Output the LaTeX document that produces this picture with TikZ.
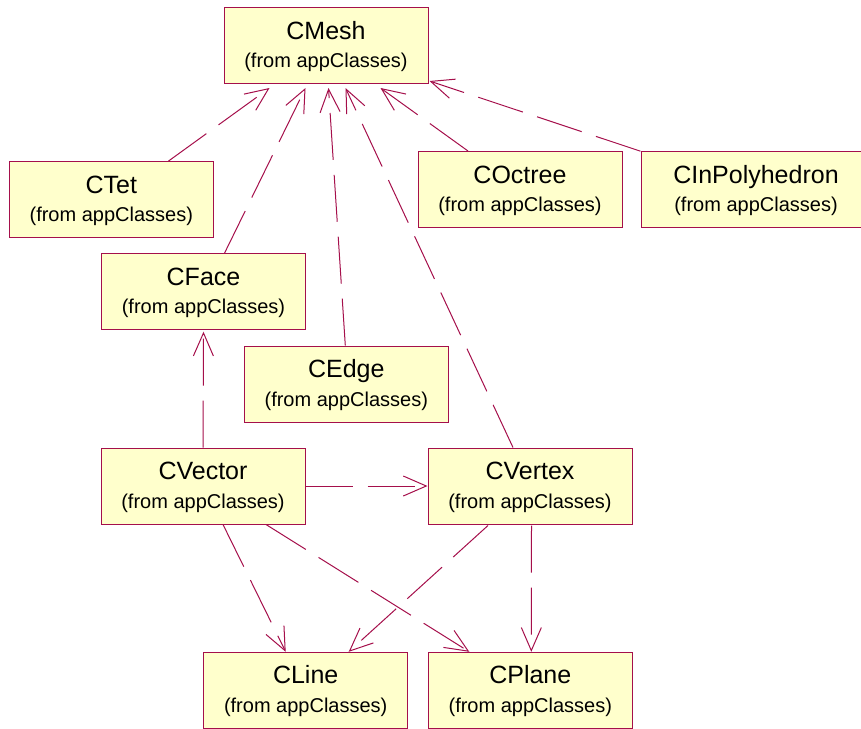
\documentclass[tikz,border=0pt]{standalone}
\usepackage{fontspec}
\setmainfont{Liberation Sans}
\usetikzlibrary{arrows.meta}
\definecolor{edgec}{RGB}{165,15,75}
\definecolor{boxfill}{RGB}{255,255,204}
\newcommand\umlcls[4][204pt]{%
  \node[cls, minimum width=#1] (#2) at (#3) {};
  \node[nm] (#2-n) at ([yshift=6.5pt]#2.center) {#4};
  \node[subt] (#2-s) at ([yshift=-22pt]#2.center) {(from appClasses)};
}
\begin{document}
\begin{tikzpicture}[x=1pt,y=-1pt,
  cls/.style={draw=edgec, fill=boxfill, line width=1pt, minimum height=76pt, inner sep=0pt},
  nm/.style={anchor=base, font=\fontsize{25}{30}\selectfont, inner sep=0pt},
  subt/.style={anchor=base, font=\fontsize{20}{24}\selectfont, inner sep=0pt},
  dep/.style={draw=edgec, line width=1pt, dash pattern=on 47pt off 15pt,
    -{Straight Barb[length=23pt,width=20pt,line width=1pt]}}
]
\useasboundingbox (0,0) rectangle (861,728);
\clip (0,0) rectangle (861,728);
\umlcls{mesh}{326,45.5}{CMesh}
\umlcls{tet}{111.3,199.7}{CTet}
\umlcls{octree}{520,189.5}{COctree}
\umlcls[230pt]{inpoly}{756,189.7}{CInPolyhedron}
\umlcls{face}{203.5,291.7}{CFace}
\umlcls{edge}{346.3,384}{CEdge}
\umlcls{vector}{203,486}{CVector}
\umlcls{vertex}{530,486}{CVertex}
\umlcls{line}{305.7,690.3}{CLine}
\umlcls{plane}{530.3,690.3}{CPlane}
% dependencies to CMesh
\draw[dep] ([xshift=57pt]tet.north) -- ([xshift=46pt,yshift=-4pt]mesh.south west);
\draw[dep] ([xshift=21pt]face.north) -- ([xshift=82pt,yshift=-4pt]mesh.south west);
\draw[dep] ([xshift=-1pt]edge.north) -- ([xshift=105pt,yshift=-4pt]mesh.south west);
\draw[dep] ([xshift=-17pt]vertex.north) -- ([xshift=122pt,yshift=-4pt]mesh.south west);
\draw[dep] ([xshift=-52pt]octree.north) -- ([xshift=157pt,yshift=-4pt]mesh.south west);
\draw[dep] (inpoly.north west) -- ([xshift=1pt,yshift=3pt]mesh.south east);
% CVector
\draw[dep] (vector.north) -- ([yshift=-1.5pt]face.south);
\draw[dep] (vector.east) -- (vertex.west);
\draw[dep] ([xshift=20pt]vector.south) -- ([xshift=-20pt]line.north);
\draw[dep] ([xshift=63pt]vector.south) -- ([xshift=-61pt]plane.north);
% CVertex
\draw[dep] ([xshift=-42pt,yshift=-1pt]vertex.south) -- ([xshift=43pt]line.north);
\draw[dep] ([xshift=1.5pt,yshift=-1pt]vertex.south) -- ([xshift=1pt]plane.north);
\end{tikzpicture}
\end{document}
